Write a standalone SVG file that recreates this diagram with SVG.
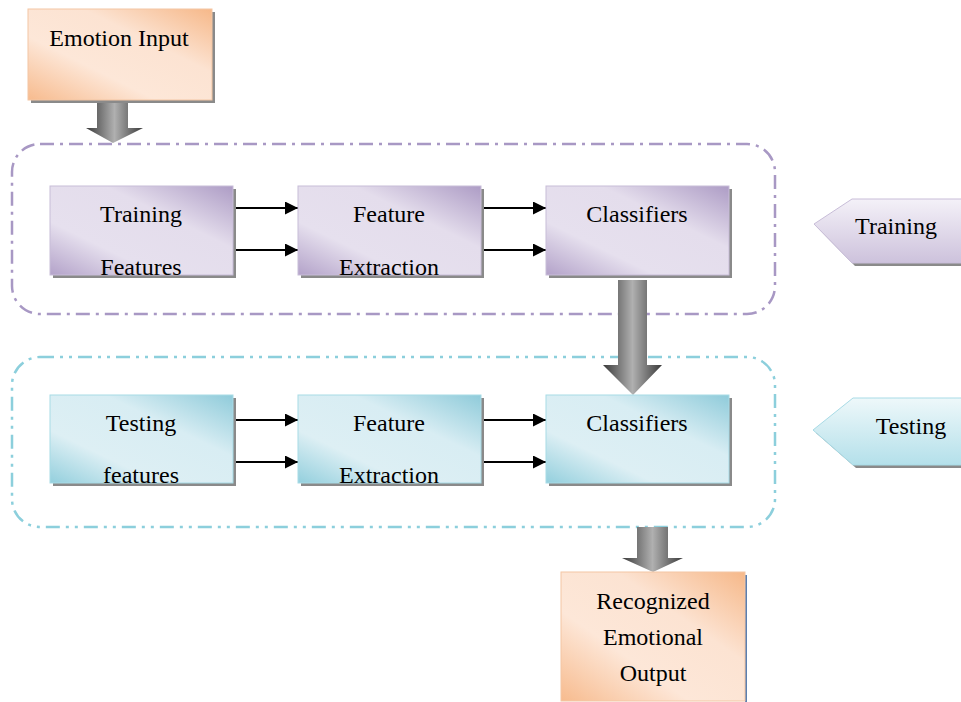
<svg xmlns="http://www.w3.org/2000/svg" width="961" height="702" viewBox="0 0 961 702" font-family="'Liberation Serif', 'Times New Roman', serif">
<style>
text{font-family:'Liberation Serif','Times New Roman',serif;font-size:24px;fill:#000;text-anchor:middle}
.shadow{fill:#8a8a8a}
.pbox{fill:url(#gP);stroke:#c8bdd8;stroke-width:1}
.cbox{fill:url(#gC);stroke:#a8dbe6;stroke-width:1}
.obox{fill:url(#gO);stroke:#f3c6a4;stroke-width:1}
.conn{stroke:#000;stroke-width:2;fill:none}
.bigarrow{fill:url(#gA)}
</style>
<defs>
<linearGradient id="gP" x1="0" y1="1" x2="1" y2="0">
<stop offset="0" stop-color="#b3a2c9"/><stop offset="0.3" stop-color="#e6e0ee"/><stop offset="0.65" stop-color="#e4ddec"/><stop offset="1" stop-color="#ad9cc5"/>
</linearGradient>
<linearGradient id="gC" x1="0" y1="1" x2="1" y2="0">
<stop offset="0" stop-color="#93cfdd"/><stop offset="0.3" stop-color="#ddeff4"/><stop offset="0.65" stop-color="#d8edf3"/><stop offset="1" stop-color="#8fcbda"/>
</linearGradient>
<linearGradient id="gO" x1="0" y1="1" x2="1" y2="0">
<stop offset="0" stop-color="#f7bb8e"/><stop offset="0.35" stop-color="#fde7d8"/><stop offset="0.65" stop-color="#fce3d2"/><stop offset="1" stop-color="#f6b889"/>
</linearGradient>
<linearGradient id="gA" x1="0" y1="0" x2="1" y2="0">
<stop offset="0" stop-color="#3a3a3a"/><stop offset="0.5" stop-color="#b0b0b0"/><stop offset="1" stop-color="#3a3a3a"/>
</linearGradient>
<linearGradient id="gTagP" x1="0" y1="0" x2="0" y2="1">
<stop offset="0" stop-color="#f4f1f8"/><stop offset="1" stop-color="#cdc2dc"/>
</linearGradient>
<linearGradient id="gTagC" x1="0" y1="0" x2="0" y2="1">
<stop offset="0" stop-color="#eef8fa"/><stop offset="1" stop-color="#b4e0ea"/>
</linearGradient>
<marker id="ah" viewBox="0 0 12 12" refX="12" refY="6" markerWidth="13" markerHeight="13" orient="auto" markerUnits="userSpaceOnUse">
<path d="M0,0 L12,6 L0,12 z" fill="#000"/>
</marker>
</defs>

<g id="training-group">
<rect x="12" y="144" width="763" height="170" rx="28" fill="none" stroke="#a898c4" stroke-width="2.5" stroke-dasharray="14,6,3,6"/>
</g>
<g id="testing-group">
<rect x="12" y="357" width="763" height="170" rx="28" fill="none" stroke="#8ccfdc" stroke-width="2.5" stroke-dasharray="14,6,3,6,3,6"/>
</g>

<g id="connectors">
<path class="bigarrow" d="M97,101 H128 V128 H143 L113,143 L86,128 H97 Z"/>
<path class="bigarrow" d="M618,280 H647 V365 H662 L633,395 L603,365 H618 Z"/>
<path class="bigarrow" d="M637,527 H668 V558 H683 L653,572 L622,558 H637 Z"/>
<line class="conn" x1="233" y1="208" x2="298" y2="208" marker-end="url(#ah)"/>
<line class="conn" x1="233" y1="250" x2="298" y2="250" marker-end="url(#ah)"/>
<line class="conn" x1="481" y1="208" x2="546" y2="208" marker-end="url(#ah)"/>
<line class="conn" x1="481" y1="250" x2="546" y2="250" marker-end="url(#ah)"/>
<line class="conn" x1="231" y1="420" x2="298" y2="420" marker-end="url(#ah)"/>
<line class="conn" x1="233" y1="462" x2="298" y2="462" marker-end="url(#ah)"/>
<line class="conn" x1="481" y1="420" x2="546" y2="420" marker-end="url(#ah)"/>
<line class="conn" x1="481" y1="462" x2="546" y2="462" marker-end="url(#ah)"/>
</g>

<g id="emotion-input">
<rect class="shadow" x="31" y="12" width="184" height="91"/>
<rect class="obox" x="28" y="9" width="184" height="91"/>
<text x="119" y="46">Emotion Input</text>
</g>

<g id="training-features">
<rect class="shadow" x="53" y="189" width="183" height="89"/>
<rect class="pbox" x="50" y="186" width="183" height="89"/>
<text x="141" y="222">Training</text>
<text x="141" y="275">Features</text>
</g>
<g id="training-feature-extraction">
<rect class="shadow" x="301" y="189" width="183" height="89"/>
<rect class="pbox" x="298" y="186" width="183" height="89"/>
<text x="389" y="222">Feature</text>
<text x="389" y="275">Extraction</text>
</g>
<g id="training-classifiers">
<rect class="shadow" x="549" y="189" width="183" height="89"/>
<rect class="pbox" x="546" y="186" width="183" height="89"/>
<text x="637" y="222">Classifiers</text>
</g>

<g id="testing-features">
<rect class="shadow" x="53" y="398" width="183" height="88"/>
<rect class="cbox" x="50" y="395" width="183" height="88"/>
<text x="141" y="431">Testing</text>
<text x="141" y="483">features</text>
</g>
<g id="testing-feature-extraction">
<rect class="shadow" x="301" y="398" width="183" height="88"/>
<rect class="cbox" x="298" y="395" width="183" height="88"/>
<text x="389" y="431">Feature</text>
<text x="389" y="483">Extraction</text>
</g>
<g id="testing-classifiers">
<rect class="shadow" x="549" y="398" width="183" height="88"/>
<rect class="cbox" x="546" y="395" width="183" height="88"/>
<text x="637" y="431">Classifiers</text>
</g>

<g id="recognized-output">
<rect x="745" y="575" width="2" height="127" fill="#5a7fb0"/>
<rect class="obox" x="561" y="572" width="184" height="129"/>
<text x="653" y="609">Recognized</text>
<text x="653" y="645">Emotional</text>
<text x="653" y="681">Output</text>
</g>

<g id="training-tag">
<path d="M817,227 L855,202 H965 V266 H855 Z" fill="#8a8a8a"/>
<path d="M814,224 L852,199 H963 V263 H852 Z" fill="url(#gTagP)" stroke="#c8bdd8" stroke-width="1"/>
<text x="896" y="234">Training</text>
</g>
<g id="testing-tag">
<path d="M816,433 L856,401 H965 V468 H856 Z" fill="#8a8a8a"/>
<path d="M813,430 L853,398 H963 V465 H853 Z" fill="url(#gTagC)" stroke="#a8dbe6" stroke-width="1"/>
<text x="911" y="434">Testing</text>
</g>
</svg>
